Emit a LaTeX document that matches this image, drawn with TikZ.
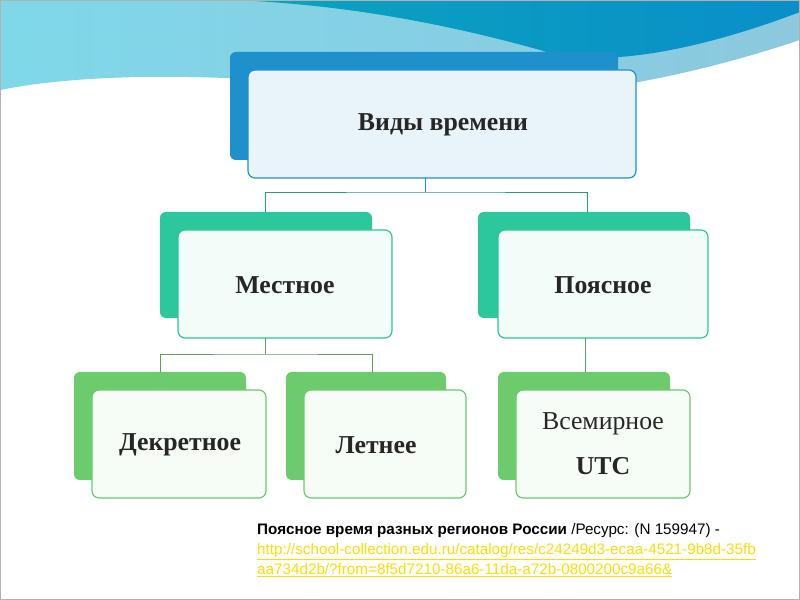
\documentclass[tikz,border=0pt]{standalone}
\usepackage{fontspec}
\setmainfont{Liberation Serif}
\newfontfamily\lsans{Liberation Sans}
\definecolor{topblue}{HTML}{1E90CC}
\definecolor{lvtwo}{HTML}{2CC79A}
\definecolor{lvthree}{HTML}{6CCB6C}
\definecolor{wavedark}{HTML}{0AA3BE}
\definecolor{wavedark2}{HTML}{0A8FC8}
\definecolor{wavelight}{HTML}{7FD8E8}
\definecolor{wavelight2}{HTML}{8CC8DE}
\begin{document}
\begin{tikzpicture}[x=0.03cm,y=-0.03cm,
  back/.style={rounded corners=5pt},
  front/.style={rounded corners=6pt, line width=1pt},
  lbl/.style={font=\fontsize{22}{26}\selectfont\bfseries, text=black!85},
  conn/.style={line width=0.8pt}]
\useasboundingbox (0,0) rectangle (800,600);
\fill[white] (0,0) rectangle (800,600);
% waves
\shade[left color=wavelight, right color=wavelight2] (0,0) -- (800,0) -- (800,40) .. controls (650,90) and (500,110) .. (380,90) .. controls (250,75) and (100,70) .. (0,90) -- cycle;
\shade[left color=wavedark, right color=wavedark2] (235,0) -- (800,0) -- (800,12) .. controls (700,50) and (600,70) .. (540,50) .. controls (450,25) and (350,5) .. (235,0) -- cycle;
\draw[white, line width=2pt] (0,92) .. controls (100,72) and (250,77) .. (380,92) .. controls (500,112) and (650,92) .. (800,42);
\draw[gray!60, line width=1pt] (0.5,0.5) rectangle (799.5,599.5);
% connectors
\coordinate (h1) at (425,192);
\draw[conn, topblue] (425,178) -- (h1);
\draw[conn, lvtwo!80!black] (265,212) |- (h1) -| (587,212);
\draw[conn, lvthree!80!black] (265,338) -- (265,354);
\draw[conn, lvthree!80!black] (160,372) |- (265,354) -| (372,372);
\draw[conn, lvthree!80!black] (585,338) -- (585,372);
% top
\fill[back, topblue] (230,52) rectangle (618,160);
\filldraw[front, fill=topblue!10, draw=topblue] (248,70) rectangle (636,178);
\node[lbl] (top) at (443,125) {Виды времени};
% level 2
\fill[back, lvtwo] (160,212) rectangle (372,318);
\filldraw[front, fill=lvtwo!6, draw=lvtwo] (178,230) rectangle (392,338);
\node[lbl] (mest) at (285,285) {Местное};
\fill[back, lvtwo] (478,212) rectangle (690,318);
\filldraw[front, fill=lvtwo!6, draw=lvtwo] (498,230) rectangle (708,338);
\node[lbl] (poya) at (603,285) {Поясное};
% level 3
\fill[back, lvthree] (74,372) rectangle (246,480);
\filldraw[front, fill=lvthree!6, draw=lvthree] (92,390) rectangle (266,498);
\node[lbl] (dekr) at (180,445) {Декретное};
\fill[back, lvthree] (286,372) rectangle (446,480);
\filldraw[front, fill=lvthree!6, draw=lvthree] (304,390) rectangle (466,498);
\node[lbl] (letn) at (376,445) {Летнее};
\fill[back, lvthree] (498,372) rectangle (670,480);
\filldraw[front, fill=lvthree!6, draw=lvthree] (516,390) rectangle (690,498);
\node[font=\fontsize{22}{26}\selectfont, text=black!85] (vsem) at (603,424) {Всемирное};
\node[lbl] (utc) at (603,466) {UTC};
% caption
\node[anchor=north west, font=\lsans\fontsize{13}{17}\selectfont, align=left, inner sep=0pt] (cap) at (257,523)
{\textbf{Поясное время разных регионов России} /Ресурс: (N 159947) -\\
\textcolor{yellow!80!orange}{\underline{http://school-collection.edu.ru/catalog/res/c24249d3-ecaa-4521-9b8d-35fb}}\\
\textcolor{yellow!80!orange}{\underline{aa734d2b/?from=8f5d7210-86a6-11da-a72b-0800200c9a66\&}}};
\end{tikzpicture}
\end{document}
